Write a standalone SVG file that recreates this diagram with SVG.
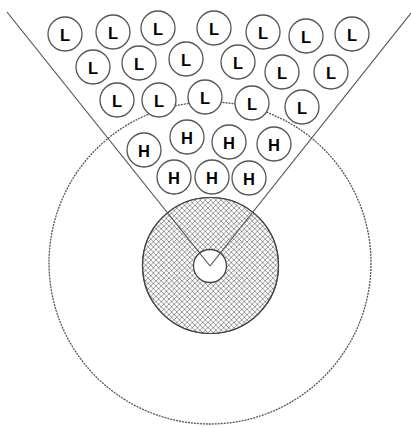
<svg xmlns="http://www.w3.org/2000/svg" width="411" height="428" viewBox="0 0 411 428">
  <style>
    .p { fill: #fff; stroke: #555; stroke-width: 1.3; }
    .t { font-family: "Liberation Sans", Arial, sans-serif; font-weight: bold; font-size: 16.5px; fill: #000; text-anchor: middle; dominant-baseline: central; }
    .cone { stroke: #555; stroke-width: 1.2; fill: none; }
  </style>
  <defs>
    <pattern id="hatch" patternUnits="userSpaceOnUse" width="5.2" height="5.2">
      <path d="M0,0 L5.2,5.2 M5.2,0 L0,5.2" stroke="#707070" stroke-width="0.7" fill="none"/>
    </pattern>
    <g id="cL"><circle r="17" class="p"/><text class="t" y="0.5">L</text></g>
    <g id="cH"><circle r="17" class="p"/><text class="t" y="0.5">H</text></g>
  </defs>

  <g id="outer-zone">
    <circle cx="210" cy="263" r="161" fill="none" stroke="#555" stroke-width="1.3" stroke-dasharray="2 1"/>
  </g>
  <g id="core">
    <circle cx="210.5" cy="265.5" r="68" fill="#fff" stroke="#444" stroke-width="1.2"/>
    <circle cx="210.5" cy="265.5" r="68" fill="url(#hatch)" stroke="#444" stroke-width="1.2"/>
    <circle cx="210" cy="266" r="16.5" fill="#fff" stroke="#444" stroke-width="1.3"/>
  </g>
  <g id="connectors">
    <line class="cone" x1="7" y1="12" x2="210" y2="266"/>
    <line class="cone" x1="411" y1="13" x2="210" y2="266"/>
  </g>

  <g id="L1"><use href="#cL" x="65" y="34"/></g>
  <g id="L2"><use href="#cL" x="113" y="32"/></g>
  <g id="L3"><use href="#cL" x="158" y="28"/></g>
  <g id="L4"><use href="#cL" x="214" y="28"/></g>
  <g id="L5"><use href="#cL" x="263" y="32"/></g>
  <g id="L6"><use href="#cL" x="306" y="36"/></g>
  <g id="L7"><use href="#cL" x="352" y="34"/></g>
  <g id="L8"><use href="#cL" x="93" y="67"/></g>
  <g id="L9"><use href="#cL" x="139" y="63"/></g>
  <g id="L10"><use href="#cL" x="186" y="59"/></g>
  <g id="L11"><use href="#cL" x="238" y="62"/></g>
  <g id="L12"><use href="#cL" x="282" y="72"/></g>
  <g id="L13"><use href="#cL" x="331" y="72"/></g>
  <g id="L14"><use href="#cL" x="117" y="100"/></g>
  <g id="L15"><use href="#cL" x="159" y="100"/></g>
  <g id="L16"><use href="#cL" x="205" y="97"/></g>
  <g id="L17"><use href="#cL" x="252" y="103"/></g>
  <g id="L18"><use href="#cL" x="302" y="107"/></g>

  <g id="H1"><use href="#cH" x="144" y="150"/></g>
  <g id="H2"><use href="#cH" x="187" y="137"/></g>
  <g id="H3"><use href="#cH" x="229" y="142"/></g>
  <g id="H4"><use href="#cH" x="274" y="144"/></g>
  <g id="H5"><use href="#cH" x="174" y="177"/></g>
  <g id="H6"><use href="#cH" x="212" y="177"/></g>
  <g id="H7"><use href="#cH" x="249" y="178"/></g>
</svg>
